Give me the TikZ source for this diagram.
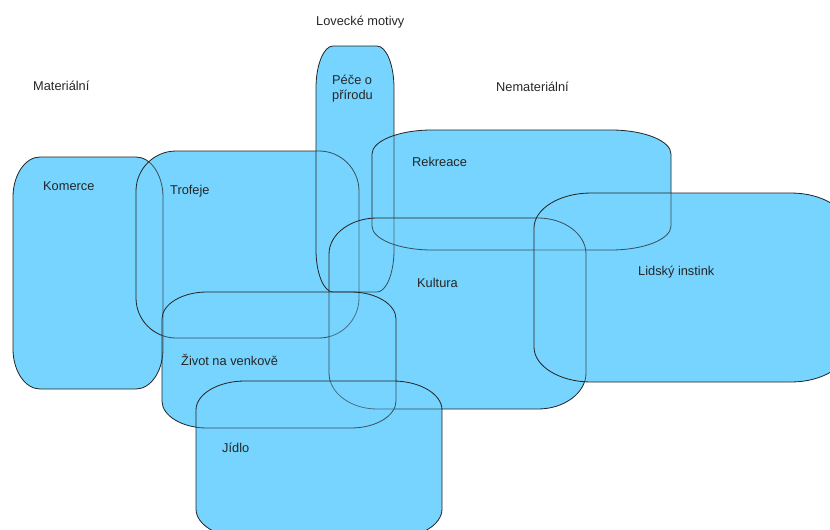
\documentclass[tikz,border=0pt]{standalone}
\usepackage{fontspec}
\setmainfont{Liberation Sans}

\definecolor{skyfill}{RGB}{118,212,254}
\definecolor{edgegray}{RGB}{35,35,35}

% rectangle with elliptic corners: left, top, right, bottom, rx, ry
\newcommand{\lozpath}[6]{(#1,#2+#6) .. controls (#1,#2+0.45*#6) and (#1+0.45*#5,#2) .. (#1+#5,#2)
  -- (#3-#5,#2) .. controls (#3-0.45*#5,#2) and (#3,#2+0.45*#6) .. (#3,#2+#6)
  -- (#3,#4-#6) .. controls (#3,#4-0.45*#6) and (#3-0.45*#5,#4) .. (#3-#5,#4)
  -- (#1+#5,#4) .. controls (#1+0.45*#5,#4) and (#1,#4-0.45*#6) .. (#1,#4-#6) -- cycle}

\tikzset{
  area/.style={fill=skyfill, fill opacity=0.25, draw=edgegray, draw opacity=1, line width=0.8pt},
  word/.style={inner sep=0pt, anchor=west, text=black!85, font=\fontsize{12.8}{15}\selectfont, align=left}
}

\begin{document}
\begin{tikzpicture}[x=1pt,y=-1pt]
	\useasboundingbox (0,0) rectangle (830,530);
	
	\begin{scope}
		\clip (0,0) rectangle (830,530);
		% base fill
		\fill[skyfill] \lozpath{13}{157}{163}{389}{27}{40};
		\fill[skyfill] \lozpath{136}{151}{359}{338}{40}{40};
		\fill[skyfill] \lozpath{316}{46}{394}{292}{17}{42};
		\fill[skyfill] \lozpath{372}{130}{671}{250}{60}{24};
		\fill[skyfill] \lozpath{329}{218}{586}{409}{48}{36};
		\fill[skyfill] \lozpath{534}{193}{848}{382}{57}{35};
		\fill[skyfill] \lozpath{162}{292}{396}{428}{45}{27};
		\fill[skyfill] \lozpath{196}{381}{442}{538}{49}{29};
		
		% outlines
		\path[area] \lozpath{13}{157}{163}{389}{27}{40};
		\path[area] \lozpath{136}{151}{359}{338}{40}{40};
		\path[area] \lozpath{316}{46}{394}{292}{17}{42};
		\path[area] \lozpath{372}{130}{671}{250}{60}{24};
		\path[area] \lozpath{329}{218}{586}{409}{48}{36};
		\path[area] \lozpath{534}{193}{848}{382}{57}{35};
		\path[area] \lozpath{162}{292}{396}{428}{45}{27};
		\path[area] \lozpath{196}{381}{442}{538}{49}{29};
	\end{scope}
	
	\node[word] (lovecke) at (316,22) {Lovecké motivy};
	\node[word] (material) at (33,86) {Materiální};
	\node[word] (nematerial) at (496,87) {Nemateriální};
	
	\node[word] (komerce) at (43,186) {Komerce};
	\node[word] (trofeje) at (170,191) {Trofeje};
	\node[word] (pece) at (332,88.5) {Péče o\\přírodu};
	\node[word] (rekreace) at (412,162) {Rekreace};
	\node[word] (kultura) at (417,283) {Kultura};
	\node[word] (instink) at (638,272) {Lidský instink};
	\node[word] (venkov) at (181,360) {Život na venkově};
	\node[word] (jidlo) at (222,448) {Jídlo};
\end{tikzpicture}
\end{document}
